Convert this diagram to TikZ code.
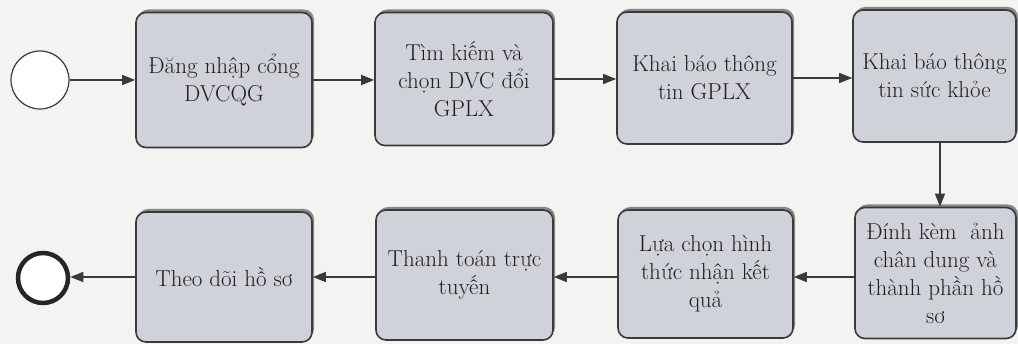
\documentclass[tikz,border=0pt]{standalone}
\usepackage{fontspec}
\usetikzlibrary{arrows.meta,shadows}
\definecolor{boxfill}{HTML}{D0D2D9}
\definecolor{boxline}{HTML}{3A3A3A}
\definecolor{bg}{HTML}{F3F3F1}
\definecolor{shadowc}{HTML}{6E6E6E}
\definecolor{txt}{HTML}{1E1E1E}
\begin{document}
\begin{tikzpicture}[x=1pt,y=-1pt,
  stepbox/.style={draw=boxline, line width=1.6pt, fill=boxfill, rounded corners=10pt,
    inner sep=0pt, align=center, text=txt,
    font=\rmfamily\addfontfeatures{FakeBold=0.6}\fontsize{23}{28}\selectfont,
    drop shadow={shadow xshift=2pt, shadow yshift=3pt, fill=shadowc, opacity=0.8}},
  flow/.style={draw=boxline, line width=1.5pt, -{Triangle[length=13pt,width=10pt]}},
  startev/.style={circle, draw=boxline, line width=1.2pt, fill=white, minimum size=58pt, inner sep=0pt},
  endev/.style={circle, draw=black!85, line width=4.5pt, fill=white, minimum size=50pt, inner sep=0pt}]
\fill[bg] (0,0) rectangle (1018,344);
\useasboundingbox (0,0) rectangle (1018,344);

\node[startev] (s) at (40,80) {};
\node[stepbox, minimum width=176pt, minimum height=135pt] (b1) at (224,80) {Đăng nhập cổng\\DVCQG};
\node[stepbox, minimum width=178pt, minimum height=133pt] (b2) at (464,79) {Tìm kiếm và\\chọn DVC đổi\\GPLX};
\node[stepbox, minimum width=175pt, minimum height=132pt] (b3) at (704.5,78) {Khai báo thông\\tin GPLX};
\node[stepbox, minimum width=163pt, minimum height=132pt] (b4) at (934.5,76) {Khai báo thông\\tin sức khỏe};

\node[stepbox, minimum width=161pt, minimum height=131pt] (b5) at (935.5,273) {Đính kèm\ \ ảnh\\chân dung và\\thành phần hồ\\sơ};
\node[stepbox, minimum width=175pt, minimum height=128pt] (b6) at (705.5,274) {Lựa chọn hình\\thức nhận kết\\quả};
\node[stepbox, minimum width=177pt, minimum height=130pt] (b7) at (464.5,275) {Thanh toán trực\\tuyến};
\node[stepbox, minimum width=176pt, minimum height=130pt] (b8) at (224,277) {Theo dõi hồ sơ};
\node[endev] (e) at (43,278) {};

\draw[flow] (s.east) -- (b1.west |- s.east);
\draw[flow] (b1.east |- 0,80) -- (b2.west |- 0,80);
\draw[flow] (b2.east |- 0,79) -- (b3.west |- 0,79);
\draw[flow] (b3.east |- 0,78) -- (b4.west |- 0,78);
\draw[flow] (b4.south -| 940,0) -- (b5.north -| 940,0);
\draw[flow] (b5.west |- 0,277) -- (b6.east |- 0,277);
\draw[flow] (b6.west |- 0,277) -- (b7.east |- 0,277);
\draw[flow] (b7.west |- 0,277) -- (b8.east |- 0,277);
\draw[flow] (b8.west |- 0,277) -- (e.east |- 0,277);
\end{tikzpicture}
\end{document}
